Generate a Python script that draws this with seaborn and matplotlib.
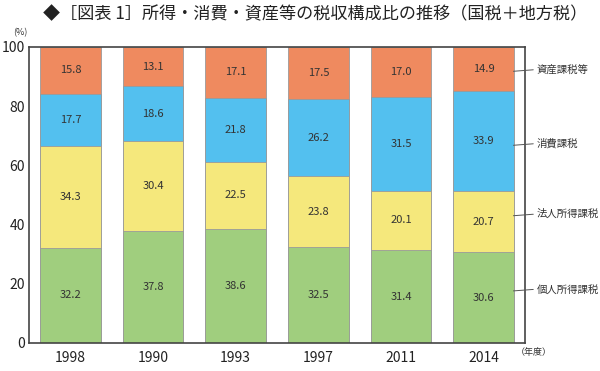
import matplotlib
matplotlib.use("Agg")
import matplotlib.pyplot as plt
import seaborn as sns
import numpy as np
import pandas as pd

years = ["1998", "1990", "1993", "1997", "2011", "2014"]
kojin = [32.2, 37.8, 38.6, 32.5, 31.4, 30.6]      # 個人所得課税
hojin = [34.3, 30.4, 22.5, 23.8, 20.1, 20.7]      # 法人所得課税
shohi = [17.7, 18.6, 21.8, 26.2, 31.5, 33.9]      # 消費課税
shisan = [15.8, 13.1, 17.1, 17.5, 17.0, 14.9]     # 資産課税等
series_names = ["個人所得課税", "法人所得課税", "消費課税", "資産課税等"]
colors = ["#A0CE7E", "#F5E87C", "#53C0EF", "#EF8A5F"]
label_y = [17.6, 43.0, 66.8, 91.8]

sns.set_style("white")
plt.rcParams['font.family'] = ['Noto Sans CJK JP', 'DejaVu Sans']

fig = plt.figure(figsize=(6, 3.71), dpi=100)
ax = fig.add_axes([29/600, 1-343/371, (525-29)/600, (343-47)/371])

series = [kojin, hojin, shohi, shisan]
cum = np.cumsum(np.array(series), axis=0)
df = pd.DataFrame({"year": years})
for i in range(3, -1, -1):
    df["v"] = cum[i]
    sns.barplot(data=df, x="year", y="v", color=colors[i], width=0.73,
                edgecolor="#9a9a9a", linewidth=0.6, saturation=1, ax=ax, zorder=2)

for i, s in enumerate(series):
    bottoms = cum[i] - np.array(s)
    for j, v in enumerate(s):
        ax.text(j, bottoms[j] + v / 2, f"{v:.1f}", ha="center", va="center",
                fontsize=8, color="#333333", zorder=3)

ax.set_ylim(0, 100)
ax.set_xlim(-0.5, 5.5)
ax.set_yticks([0, 20, 40, 60, 80, 100])
ax.tick_params(axis="y", direction="in", length=4, width=1, color="#444444",
               labelsize=10, pad=3, labelcolor="#222222")
ax.tick_params(axis="x", length=0, labelsize=10, pad=6, labelcolor="#222222")
ax.set_xlabel("")
ax.set_ylabel("")
for sp in ax.spines.values():
    sp.set_visible(True)
    sp.set_color("#444444")
    sp.set_linewidth(1.2)

# right-side series labels with leader lines
for name, yv in zip(series_names, label_y):
    ax.plot([5.36, 5.6], [yv, yv + 0.5], color="#555555", lw=0.7,
            clip_on=False, zorder=4)
    ax.text(5.64, yv + 0.5, name, ha="left", va="center", fontsize=7.5,
            color="#333333", clip_on=False)

fig.text(20/600, 1-33/371, "(%)", ha="center", va="center", fontsize=6.5, color="#333333")
fig.text(534/600, 1-353/371, "（年度）", ha="center", va="center", fontsize=6.5, color="#333333")
fig.text(315/600, 1-14/371, "◆［図表 1］所得・消費・資産等の税収構成比の推移（国税＋地方税）",
         ha="center", va="center", fontsize=12.3, color="#222222")

fig.savefig("out.png", dpi=100)
